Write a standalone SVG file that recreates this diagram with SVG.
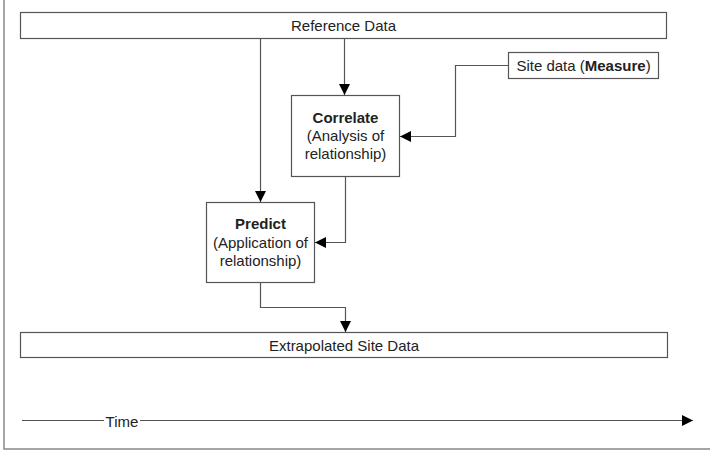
<svg xmlns="http://www.w3.org/2000/svg" width="710" height="457" viewBox="0 0 710 457">
<style>
.box{fill:#fff;stroke:#555;stroke-width:1.2}
.conn{fill:none;stroke:#555;stroke-width:1.2}
.frame{fill:none;stroke:#888;stroke-width:1.5}
text{font-family:"Liberation Sans",Arial,sans-serif;font-size:15px;fill:#222;text-anchor:middle}
.b{font-weight:bold}
</style>
<defs>
<marker id="arr" markerUnits="userSpaceOnUse" markerWidth="12" markerHeight="12" viewBox="0 0 12 12" refX="11" refY="6" orient="auto">
<path d="M0,0.5 L11,6 L0,11.5 Z" fill="#000"/>
</marker>
</defs>
<rect width="710" height="457" fill="#fff"/>
<path class="frame" d="M4,0 V449 H710"/>
<g id="reference-data">
<rect class="box" x="20.5" y="12.5" width="646" height="26"/>
<text x="343.5" y="30.5">Reference Data</text>
</g>
<g id="site-data">
<rect class="box" x="508.5" y="52.5" width="150" height="26"/>
<text x="583.5" y="71">Site data (<tspan class="b">Measure</tspan>)</text>
</g>
<g id="correlate">
<rect class="box" x="291.5" y="95.5" width="108" height="81"/>
<text class="b" x="345.5" y="122.5">Correlate</text>
<text x="345.5" y="141">(Analysis of</text>
<text x="345.5" y="159">relationship)</text>
</g>
<g id="predict">
<rect class="box" x="206.5" y="202.5" width="108" height="80"/>
<text class="b" x="260.5" y="229">Predict</text>
<text x="260.5" y="247.5">(Application of</text>
<text x="260.5" y="265.5">relationship)</text>
</g>
<g id="extrapolated">
<rect class="box" x="20.5" y="332.5" width="647" height="25"/>
<text x="344" y="350.5">Extrapolated Site Data</text>
</g>
<g id="time">
<path class="conn" d="M22,420.5 H104 M140,420.5 H693" marker-end="url(#arr)"/>
<text x="122" y="426.5">Time</text>
</g>
<g id="connectors">
<path class="conn" d="M260.5,39 V202" marker-end="url(#arr)"/>
<path class="conn" d="M344.5,39 V95" marker-end="url(#arr)"/>
<path class="conn" d="M508,65.5 H455.5 V136.5 H400" marker-end="url(#arr)"/>
<path class="conn" d="M345.5,177 V242.5 H315" marker-end="url(#arr)"/>
<path class="conn" d="M260.5,283 V307.5 H345.5 V332" marker-end="url(#arr)"/>
</g>
</svg>
